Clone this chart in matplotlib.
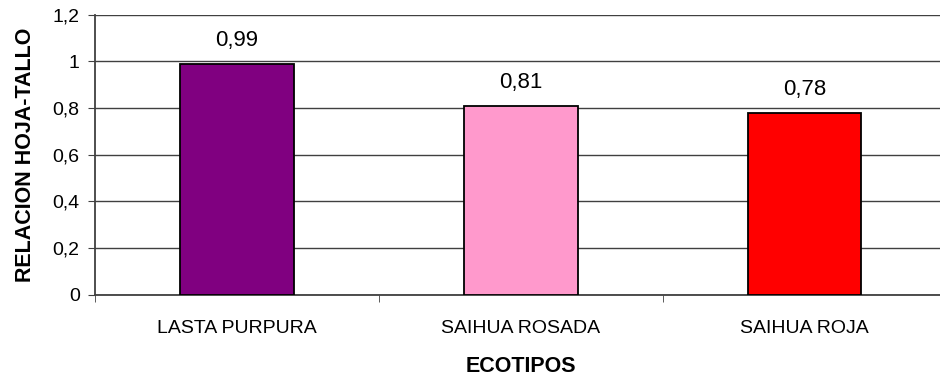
import matplotlib.pyplot as plt
import numpy as np

plt.rcParams['font.family'] = ['Liberation Sans', 'DejaVu Sans']

ecotipos = ['LASTA PURPURA', 'SAIHUA ROSADA', 'SAIHUA ROJA']
relacion = [0.99, 0.81, 0.78]
etiquetas = ['0,99', '0,81', '0,78']
colores = ['#800080', '#FF99CC', '#FF0000']
yticks = [0, 0.2, 0.4, 0.6, 0.8, 1.0, 1.2]
ytick_labels = ['0', '0,2', '0,4', '0,6', '0,8', '1', '1,2']

fig = plt.figure(figsize=(9.4, 3.78), dpi=100)
ax = fig.add_axes([0.101, 0.2196, 0.906, 0.742])

x = np.arange(len(ecotipos))
ax.bar(x, relacion, width=0.4, color=colores, edgecolor='black', linewidth=1.3, zorder=3)

for xi, v, lab in zip(x, relacion, etiquetas):
    ax.annotate(lab, (xi, v), xytext=(0, 13), textcoords='offset points',
                ha='center', va='baseline', fontsize=16)

ax.set_xlim(-0.5, len(ecotipos) - 0.5)
ax.set_ylim(0, 1.2)
ax.set_yticks(yticks)
ax.set_yticklabels(ytick_labels, fontsize=14)
ax.yaxis.grid(True, color='#404040', linewidth=1.0, zorder=0)

# category labels between boundary ticks
ax.set_xticks(x)
ax.set_xticklabels(ecotipos, fontsize=14)
ax.tick_params(axis='x', length=0, pad=18)
ax.set_xticks(np.arange(len(ecotipos) + 1) - 0.5, minor=True)
ax.tick_params(axis='x', which='minor', length=5, direction='out', color='#404040')
ax.tick_params(axis='y', length=5, direction='out', color='#404040', pad=6)

for s in ['top', 'right']:
    ax.spines[s].set_visible(False)
ax.spines['left'].set_color('#404040')
ax.spines['bottom'].set_color('#404040')
ax.spines['left'].set_linewidth(1.3)
ax.spines['bottom'].set_linewidth(1.3)

ax.set_ylabel('RELACION HOJA-TALLO', fontsize=15.5, fontweight='bold', labelpad=12)
ax.set_xlabel('ECOTIPOS', fontsize=15.5, fontweight='bold', labelpad=14)

fig.savefig('out.png', dpi=100)
